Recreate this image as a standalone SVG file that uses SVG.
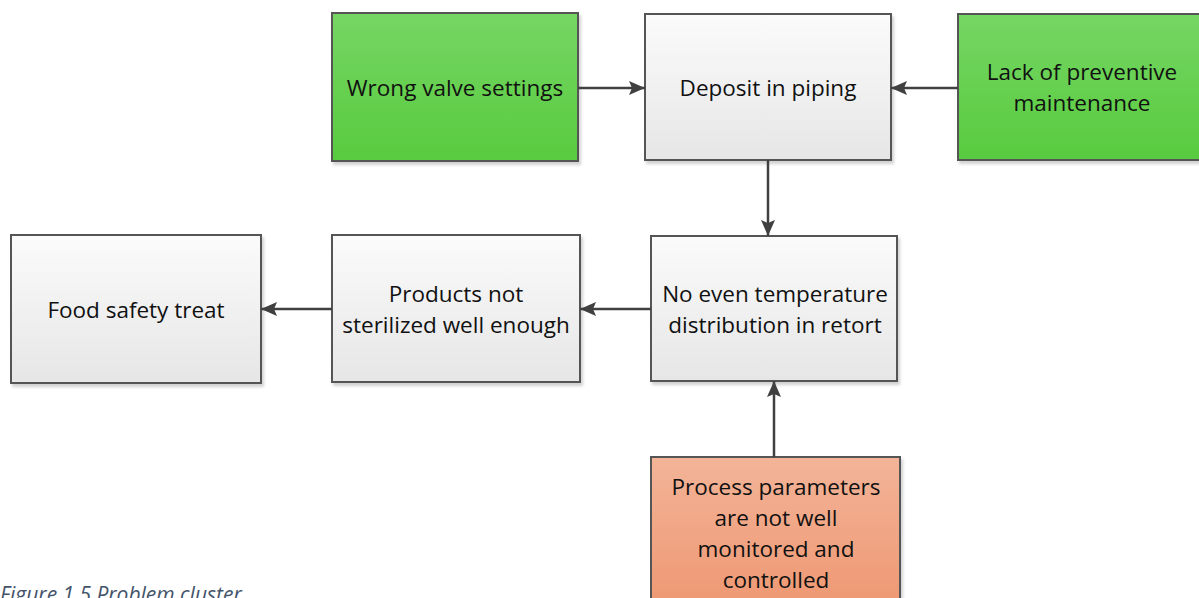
<svg xmlns="http://www.w3.org/2000/svg" width="1199" height="598" viewBox="0 0 1199 598">
<defs>
<linearGradient id="gGreen" x1="0" y1="0" x2="0" y2="1"><stop offset="0" stop-color="#76d663"/><stop offset="1" stop-color="#58cb3f"/></linearGradient>
<linearGradient id="gGrey" x1="0" y1="0" x2="0" y2="1"><stop offset="0" stop-color="#fbfbfb"/><stop offset="1" stop-color="#e6e6e6"/></linearGradient>
<linearGradient id="gRed" x1="0" y1="0" x2="0" y2="1"><stop offset="0" stop-color="#f3b498"/><stop offset="1" stop-color="#ee9670"/></linearGradient>
<marker id="arr" markerWidth="16" markerHeight="14" viewBox="0 0 16 14" refX="16" refY="7" orient="auto" markerUnits="userSpaceOnUse"><path d="M0,0 L16,7 L0,14 L3,7 Z" fill="#404040"/></marker>
<filter id="sh" x="-5%" y="-5%" width="115%" height="115%"><feDropShadow dx="2" dy="3" stdDeviation="1.5" flood-color="#000" flood-opacity="0.18"/></filter>
</defs>
<style>
.box{stroke:#555;stroke-width:2;filter:url(#sh)}
.t{font-family:"Open Sans","Noto Sans",sans-serif;font-size:22.5px;fill:#111;text-anchor:middle}
.c{stroke:#404040;stroke-width:2.5;fill:none;marker-end:url(#arr)}
</style>
<g id="n-wrong-valve"><rect class="box" x="332" y="13" width="246" height="148" fill="url(#gGreen)"/><text class="t" x="455" y="96">Wrong valve settings</text></g>
<g id="n-deposit"><rect class="box" x="645" y="14" width="246" height="146" fill="url(#gGrey)"/><text class="t" x="768" y="96">Deposit in piping</text></g>
<g id="n-lack"><rect class="box" x="958" y="14" width="246" height="146" fill="url(#gGreen)"/><text class="t" x="1082" y="80">Lack of preventive</text><text class="t" x="1082" y="111">maintenance</text></g>
<g id="n-food"><rect class="box" x="11" y="235" width="250" height="148" fill="url(#gGrey)"/><text class="t" x="136" y="318">Food safety treat</text></g>
<g id="n-products"><rect class="box" x="332" y="235" width="248" height="147" fill="url(#gGrey)"/><text class="t" x="456" y="302">Products not</text><text class="t" x="456" y="333">sterilized well enough</text></g>
<g id="n-noeven"><rect class="box" x="651" y="236" width="246" height="145" fill="url(#gGrey)"/><text class="t" x="775" y="302">No even temperature</text><text class="t" x="775" y="333">distribution in retort</text></g>
<g id="n-process"><rect class="box" x="651" y="457" width="249" height="160" fill="url(#gRed)"/><text class="t" x="776" y="495">Process parameters</text><text class="t" x="776" y="526">are not well</text><text class="t" x="776" y="557">monitored and</text><text class="t" x="776" y="588">controlled</text></g>
<g id="connectors">
<line class="c" x1="578" y1="88" x2="645" y2="88"/>
<line class="c" x1="958" y1="88" x2="891" y2="88"/>
<line class="c" x1="768" y1="160" x2="768" y2="236"/>
<line class="c" x1="651" y1="309" x2="580" y2="309"/>
<line class="c" x1="332" y1="309" x2="261" y2="309"/>
<line class="c" x1="774" y1="457" x2="774" y2="381"/>
</g>
<text x="0" y="602" style="font-family:'Open Sans','Noto Sans',sans-serif;font-size:21px;font-style:italic;fill:#44546a">Figure 1.5 Problem cluster</text>
</svg>
